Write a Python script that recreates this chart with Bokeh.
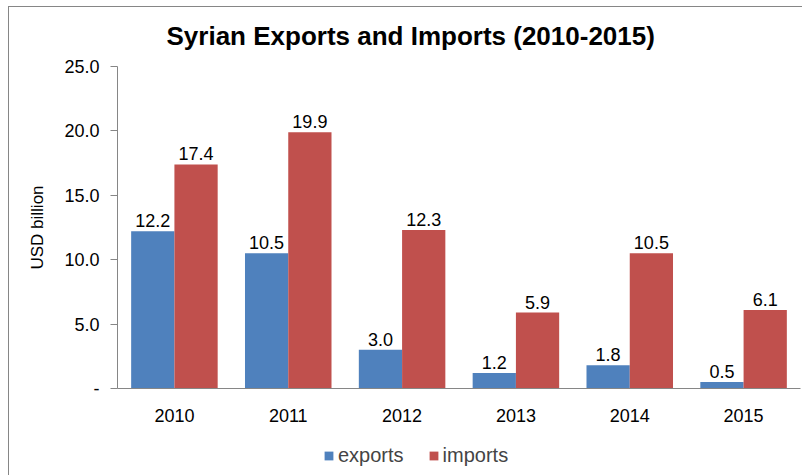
from bokeh.plotting import figure
from bokeh.layouts import column
from bokeh.models import (ColumnDataSource, FactorRange, Range1d, LabelSet,
                          Legend, LegendItem, NumeralTickFormatter, InlineStyleSheet)
from bokeh.core.properties import value
from bokeh.transform import dodge
from bokeh.embed import file_html
from bokeh.resources import INLINE

years = ["2010", "2011", "2012", "2013", "2014", "2015"]
exports = [12.2, 10.5, 3.0, 1.2, 1.8, 0.5]
imports = [17.4, 19.9, 12.3, 5.9, 10.5, 6.1]
y_ticks = [0, 5, 10, 15, 20, 25]
series_names = ["exports", "imports"]

BLUE = "#4F81BD"
RED = "#C0504D"
FONT = "Liberation Sans"

src = ColumnDataSource(dict(
    years=years, exports=exports, imports=imports,
    exp_lbl=[f"{v:.1f}" for v in exports],
    imp_lbl=[f"{v:.1f}" for v in imports],
))

p = figure(width=802, height=440, x_range=FactorRange(*years, range_padding=0),
           y_range=Range1d(0, 25), output_backend="svg", toolbar_location=None,
           min_border_left=117, min_border_right=2, min_border_top=66,
           min_border_bottom=52)
p.outline_line_color = None
p.grid.visible = False
p.background_fill_color = "white"
p.border_fill_color = "white"

r_exp = p.vbar(x=dodge("years", -0.19, range=p.x_range), top="exports", width=0.38,
               source=src, fill_color=BLUE, line_color=None)
r_imp = p.vbar(x=dodge("years", 0.19, range=p.x_range), top="imports", width=0.38,
               source=src, fill_color=RED, line_color=None)

lbl_kw = dict(text_font=value(FONT), text_font_size="18px", text_color="#000000",
              text_align="center", text_baseline="bottom", y_offset=4)
p.add_layout(LabelSet(x=dodge("years", -0.19, range=p.x_range), y="exports",
                      text="exp_lbl", source=src, **lbl_kw))
p.add_layout(LabelSet(x=dodge("years", 0.19, range=p.x_range), y="imports",
                      text="imp_lbl", source=src, **lbl_kw))

# y axis
ya = p.yaxis[0]
ya.ticker = y_ticks
ya.formatter = NumeralTickFormatter(format="0.0")
ya.major_label_overrides = {0: "-"}
ya.axis_line_color = "#868686"
ya.major_tick_line_color = "#868686"
ya.major_tick_out = 7
ya.major_tick_in = 0
ya.minor_tick_line_color = None
ya.major_label_text_font = FONT
ya.major_label_text_font_size = "18px"
ya.major_label_text_color = "#000000"
ya.major_label_standoff = 11
ya.axis_label = "USD billion"
ya.axis_label_text_font = FONT
ya.axis_label_text_font_size = "17px"
ya.axis_label_text_font_style = "normal"
ya.axis_label_text_color = "#000000"
ya.axis_label_standoff = 14

# x axis
xa = p.xaxis[0]
xa.axis_line_color = "#868686"
xa.major_tick_line_color = None
xa.minor_tick_line_color = None
xa.major_label_text_font = FONT
xa.major_label_text_font_size = "18px"
xa.major_label_text_color = "#000000"
xa.major_label_standoff = 14

# title
p.title.text = "Syrian Exports and Imports (2010-2015)"
p.title.text_font = FONT
p.title.text_font_size = "26px"
p.title.text_font_style = "bold"
p.title.text_color = "#000000"
p.title.align = "left"
p.title.offset = 49
p.title.standoff = 31

# chart border
p.stylesheets = [InlineStyleSheet(css=""":host::after {
  content: ""; position: absolute; left: 8px; top: 6px; width: 900px; height: 600px;
  border: 1px solid #868686; pointer-events: none; box-sizing: border-box; z-index: 5;
}""")]

# legend strip below the chart (swatch renderers hold no visible bar)
pl = figure(width=802, height=35, x_range=Range1d(0, 802), y_range=Range1d(0, 35),
            output_backend="svg", toolbar_location=None, min_border=0,
            x_axis_location=None, y_axis_location=None)
pl.outline_line_color = None
pl.grid.visible = False
pl.background_fill_alpha = 0
pl.border_fill_alpha = 0
d_exp = pl.vbar(x=[-5000], top=[0], width=1, fill_color=BLUE, line_color=None)
d_imp = pl.vbar(x=[-5000], top=[0], width=1, fill_color=RED, line_color=None)
legend = Legend(items=[LegendItem(label=series_names[0], renderers=[d_exp]),
                       LegendItem(label=series_names[1], renderers=[d_imp])],
                orientation="horizontal", location=(206, 8),
                label_text_font=FONT, label_text_font_size="20px",
                glyph_width=11, glyph_height=11, label_standoff=4, spacing=24,
                padding=0, margin=0, border_line_color=None,
                background_fill_alpha=0)
pl.add_layout(legend, "center")

layout = column(p, pl, spacing=0)
open("out.html", "w").write(file_html(layout, INLINE))
